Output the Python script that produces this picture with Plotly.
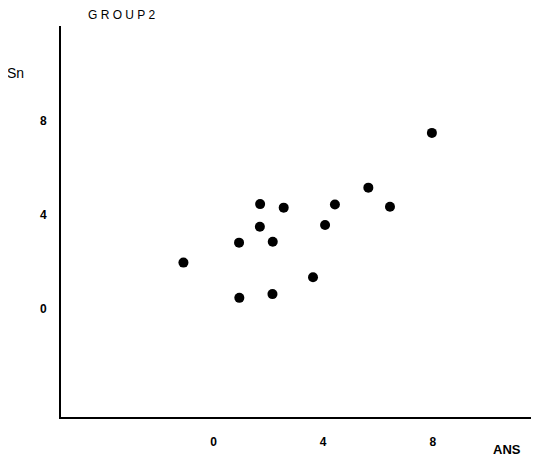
import plotly.graph_objects as go

ans = [-1.10, 0.93, 0.94, 1.70, 1.69, 2.16, 2.15, 2.56, 3.63, 4.07, 4.43, 5.65, 6.44, 7.97]
sn = [1.97, 2.82, 0.47, 4.46, 3.50, 2.86, 0.63, 4.31, 1.35, 3.57, 4.44, 5.16, 4.35, 7.49]
x_ticks = [0, 4, 8]
y_ticks = [0, 4, 8]

# page has an 8px body margin; figure is sized to fit the 539x458 window
OFF = 8
W, H = 539 - OFF, 458 - OFF
l, r, t, b = 61 - OFF, 0, 26 - OFF, 458 - 417
pw, ph = W - l - r, H - t - b

fig = go.Figure()
fig.add_trace(go.Scatter(x=ans, y=sn, mode="markers",
                         marker=dict(size=10, color="black"), showlegend=False))

def ann(text, px, py, size, xanchor="left"):
    return dict(text=text, xref="paper", yref="paper",
                x=(px - OFF - l) / pw, y=1 - (py - OFF - t) / ph,
                showarrow=False, xanchor=xanchor, yanchor="middle", borderpad=0,
                font=dict(size=size, color="black"))

fig.update_layout(
    width=W, height=H,
    margin=dict(l=l, r=r, t=t, b=b, pad=0),
    plot_bgcolor="white", paper_bgcolor="white",
    font=dict(family="Liberation Sans, Arial, sans-serif", color="black"),
    xaxis=dict(range=[-5.57, 11.88], tickvals=x_ticks, ticktext=[str(v) for v in x_ticks],
               showgrid=False, zeroline=False, showline=True, linecolor="black", linewidth=2,
               ticks="", tickfont=dict(size=12, family="Liberation Sans, Arial", weight="bold"),
               ticklabelstandoff=13),
    yaxis=dict(range=[-4.6, 12.04], tickvals=y_ticks, ticktext=[str(v) for v in y_ticks],
               showgrid=False, zeroline=False, showline=True, linecolor="black", linewidth=2,
               ticks="", tickfont=dict(size=12, family="Liberation Sans, Arial", weight="bold"),
               ticklabelstandoff=10),
    annotations=[
        ann("G R O U P 2", 87, 15, 12),
        ann("Sn", 6, 73, 14),
        ann("<b>ANS</b>", 492, 449, 13),
    ],
)

fig.write_html("out.html")
